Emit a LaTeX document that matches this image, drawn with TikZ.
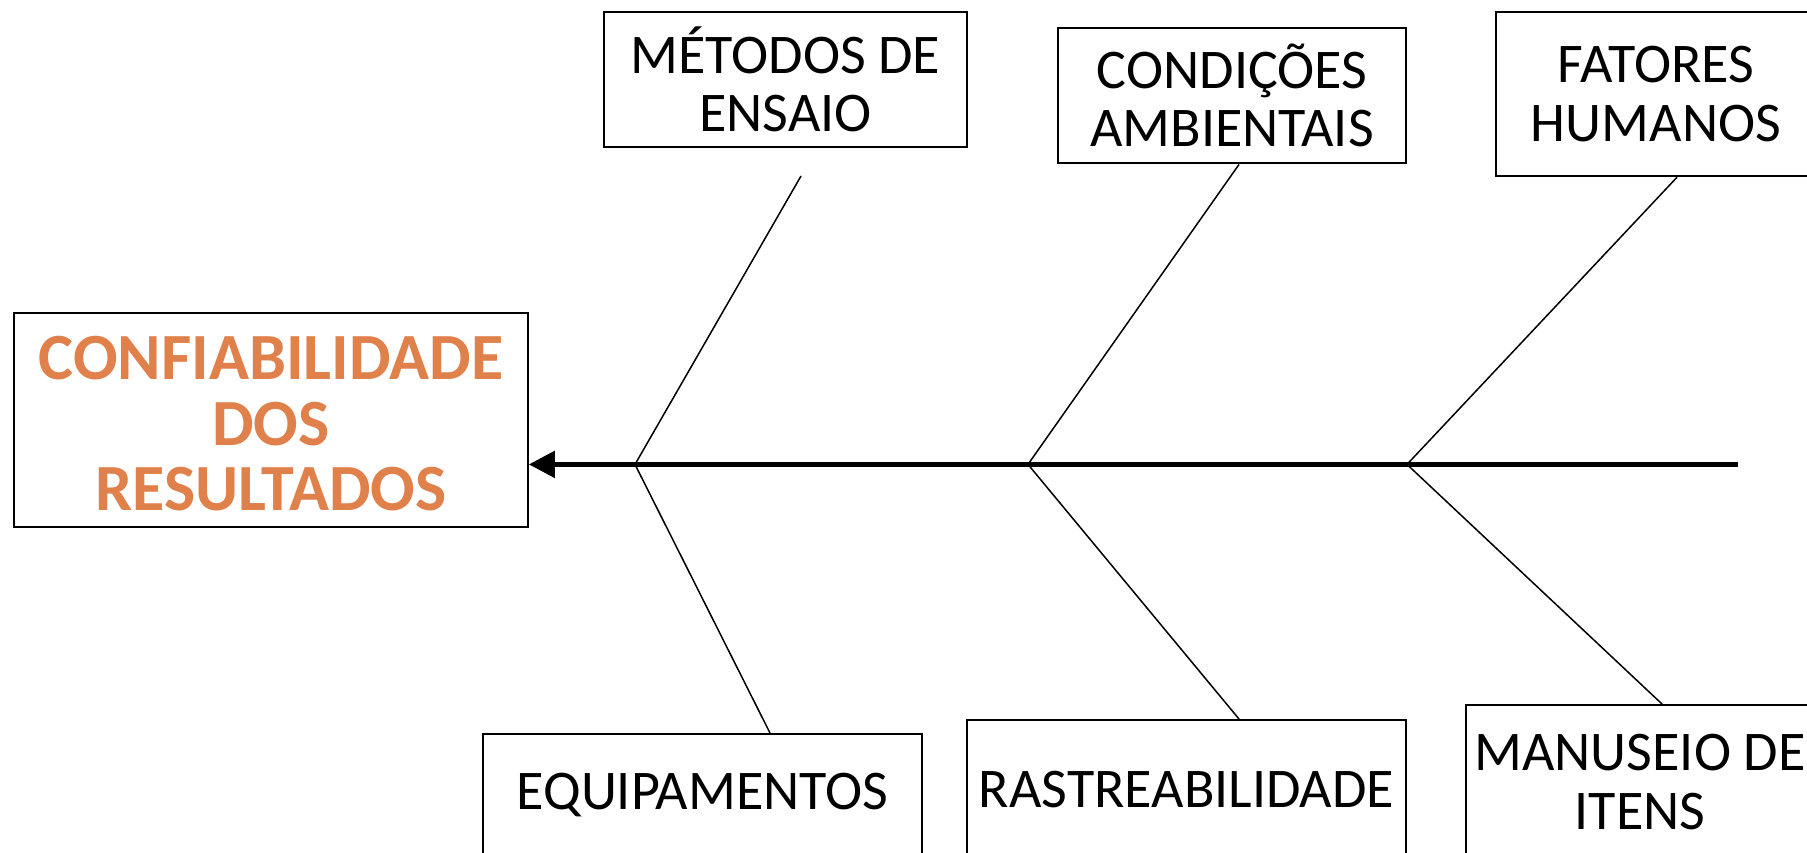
\documentclass[tikz,border=0pt]{standalone}
\usepackage{fontspec}
\setmainfont{Carlito}
\usetikzlibrary{arrows.meta}
\definecolor{titleorange}{HTML}{E0804A}
\begin{document}
\begin{tikzpicture}[x=1pt,y=-1pt,
  catbox/.style={draw=black,line width=2pt,inner sep=0pt,align=center,
    font=\fontsize{56}{58.5}\selectfont},
  titlebox/.style={draw=black,line width=2pt,inner sep=0pt,align=center,
    text=titleorange,font=\bfseries\fontsize{66}{65.5}\selectfont},
  spine/.style={line width=5pt,-{Triangle[length=26pt,width=26pt]}},
  bone/.style={line width=1.5pt}]
\clip (0,0) rectangle (1807,852);
\fill[white] (0,0) rectangle (1807,852);
% main effect box
\node[titlebox,minimum width=514pt,minimum height=214pt] (main) at (270.8,419.5) {};
\node[text=titleorange,font=\bfseries\fontsize{66}{65.5}\selectfont,align=center,inner sep=0pt]
  (maintext) at (271,424) {CONFIABILIDADE\\DOS\\RESULTADOS};
% category boxes
\node[catbox,minimum width=363pt,minimum height=134.6pt] (met) at (785.5,79.5)
  {MÉTODOS DE\\ENSAIO};
\node[catbox,minimum width=348pt,minimum height=135.9pt] (cond) at (1232,95.5)
  {CONDIÇÕES\\AMBIENTAIS};
\node[catbox,minimum width=320pt,minimum height=164.5pt] (fat) at (1656,94)
  {FATORES\\HUMANOS};
\node[catbox,minimum width=439pt,minimum height=122pt] (equip) at (702.5,795)
  {EQUIPAMENTOS};
\node[catbox,minimum width=439pt,minimum height=140pt] (rast) at (1186.5,790)
  {RASTREABILIDADE};
\node[catbox,minimum width=348pt,minimum height=154pt] (man) at (1640,782)
  {MANUSEIO DE\\ITENS};
% spine
\coordinate (tail) at (1738,464.4);
\coordinate (j1) at (635,464.4);
\coordinate (j2) at (1028,464.4);
\coordinate (j3) at (1407,464.4);
\coordinate (metend) at (801,176);
\draw[spine] (tail) -- (main.east |- tail);
% bones
\draw[bone] (j1) -- (metend);
\draw[bone] (j1) -- (equip.north -| 770,0);
\draw[bone] (j2) -- (cond.south -| 1239,0);
\draw[bone] (j2) -- (rast.north -| 1239,0);
\draw[bone] (j3) -- (fat.south -| 1677,0);
\draw[bone] (j3) -- (man.north -| 1662,0);
\end{tikzpicture}
\end{document}
